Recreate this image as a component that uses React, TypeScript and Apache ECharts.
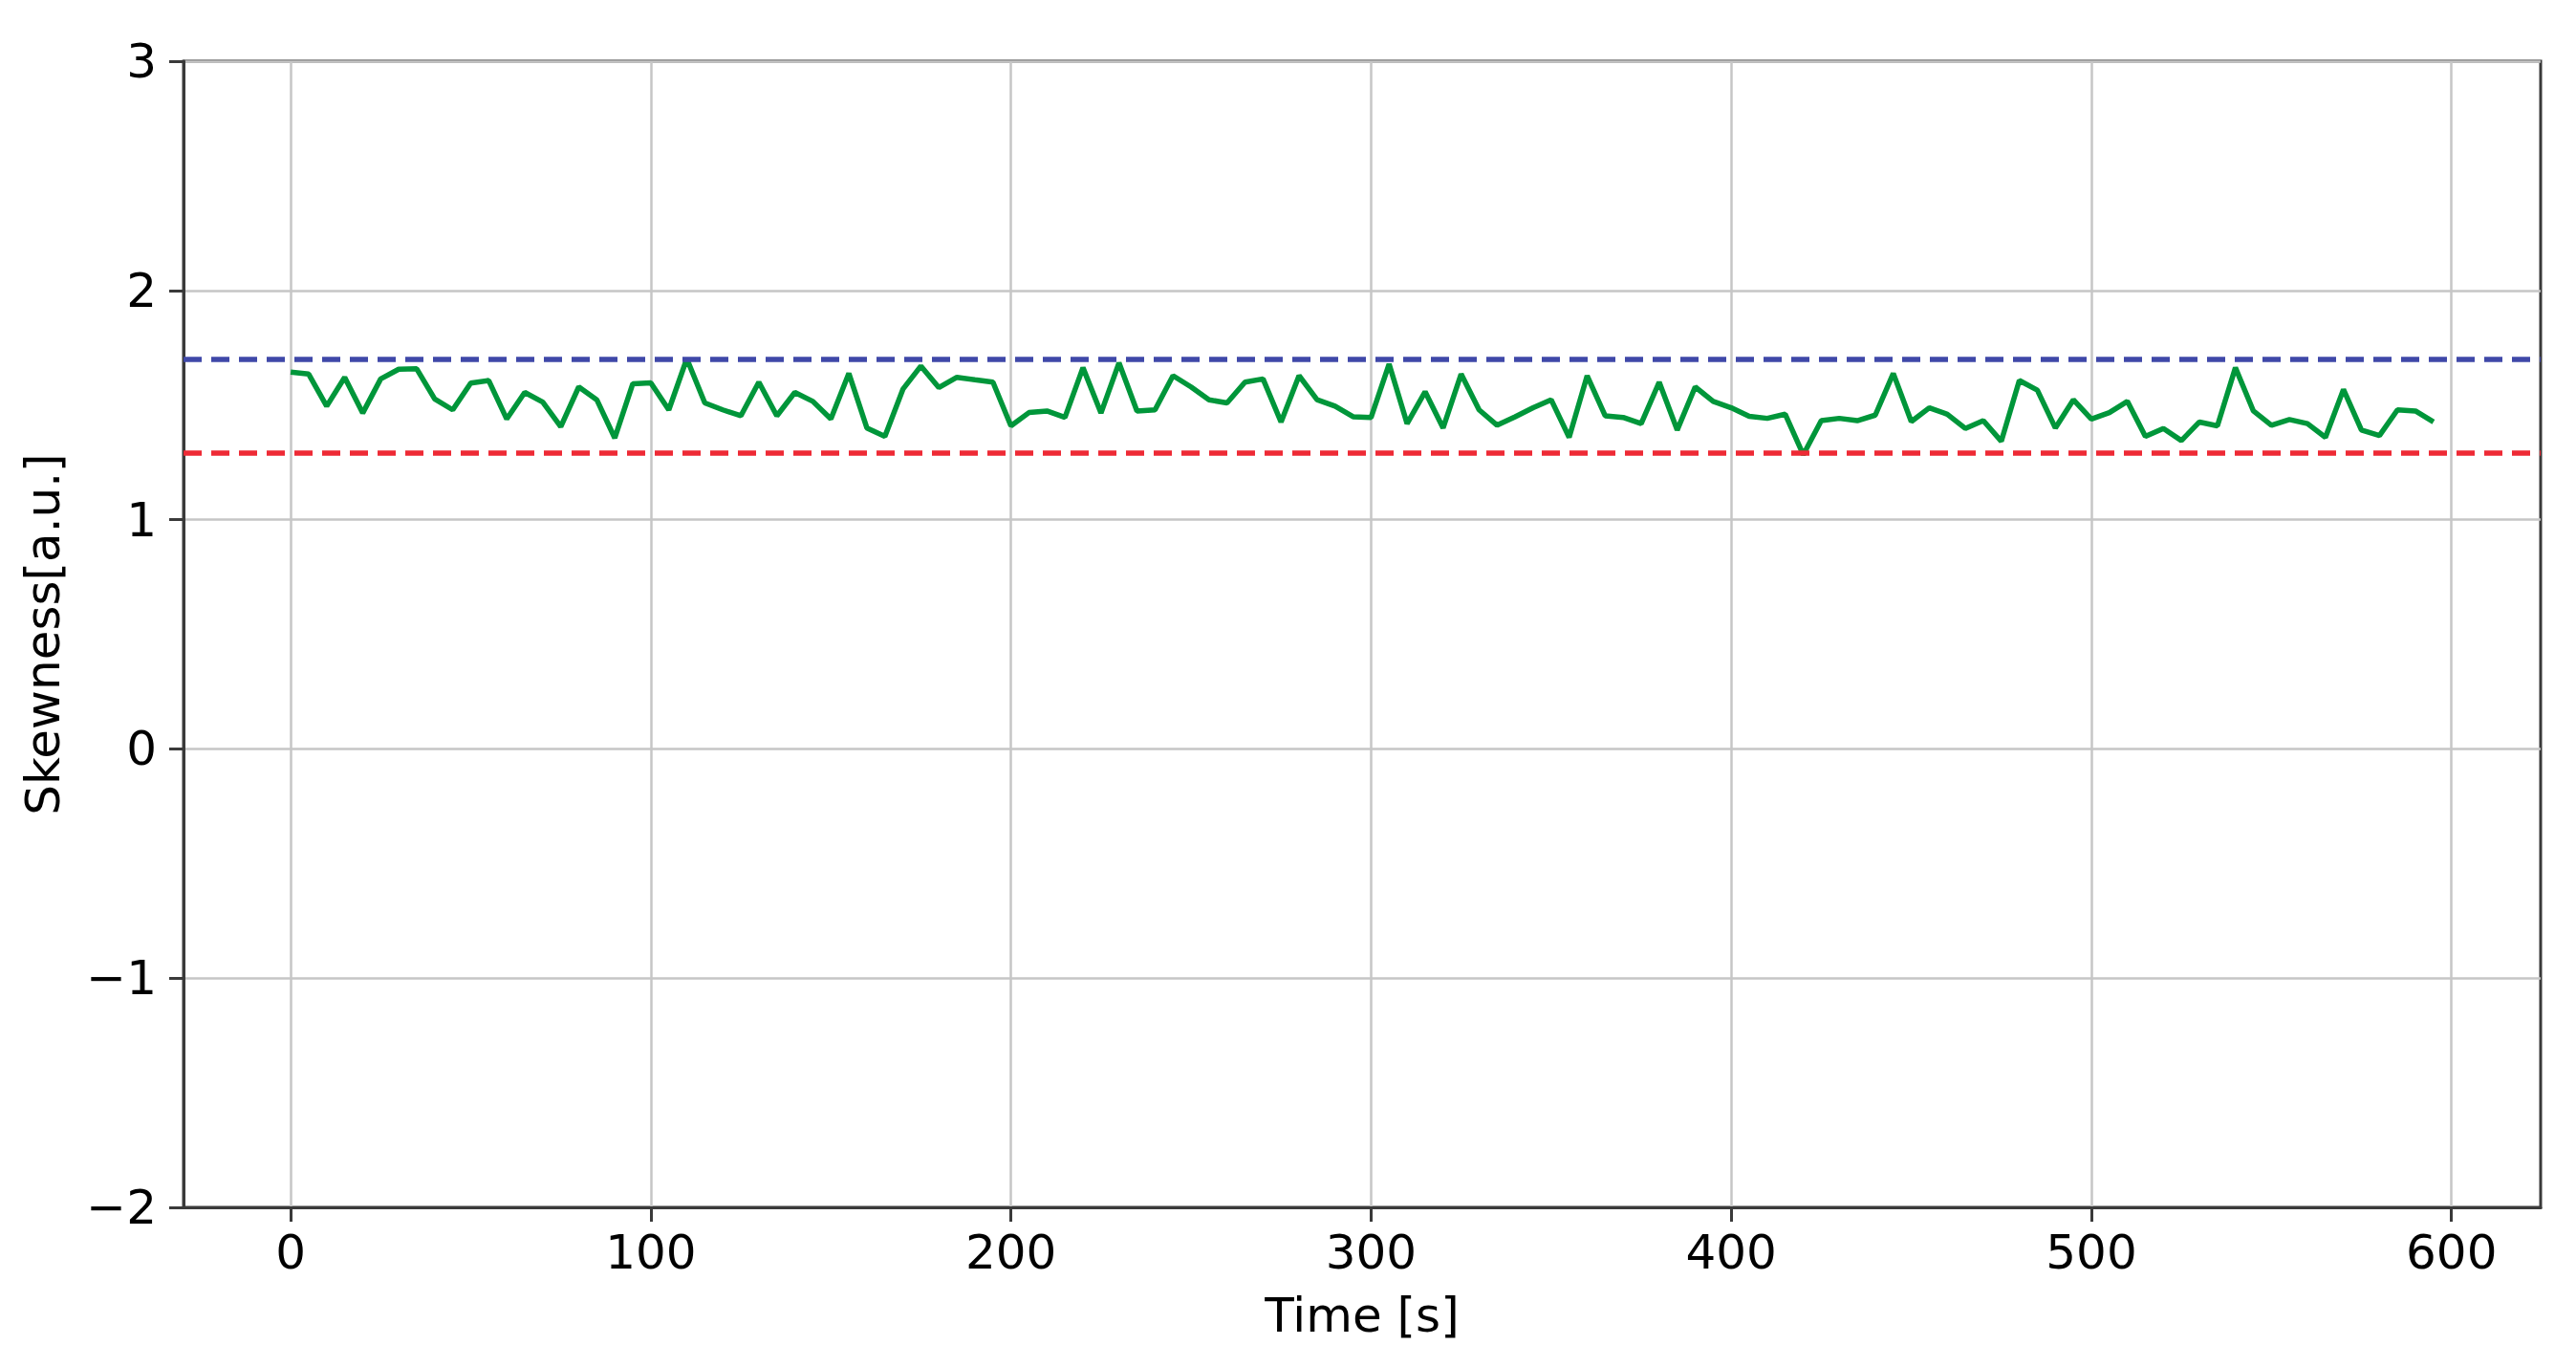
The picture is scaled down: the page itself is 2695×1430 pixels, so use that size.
import React, { useEffect, useRef } from "react";
import * as echarts from "echarts";

const TIME_S = [
  0, 5, 10, 15, 20, 25, 30, 35, 40, 45, 50, 55, 60, 65, 70, 75, 80, 85, 90, 95,
  100, 105, 110, 115, 120, 125, 130, 135, 140, 145, 150, 155, 160, 165, 170, 175, 180, 185, 190, 195,
  200, 205, 210, 215, 220, 225, 230, 235, 240, 245, 250, 255, 260, 265, 270, 275, 280, 285, 290, 295,
  300, 305, 310, 315, 320, 325, 330, 335, 340, 345, 350, 355, 360, 365, 370, 375, 380, 385, 390, 395,
  400, 405, 410, 415, 420, 425, 430, 435, 440, 445, 450, 455, 460, 465, 470, 475, 480, 485, 490, 495,
  500, 505, 510, 515, 520, 525, 530, 535, 540, 545, 550, 555, 560, 565, 570, 575, 580, 585, 590, 595,
];

const SKEWNESS = [
  1.644, 1.635, 1.495, 1.621, 1.465, 1.614, 1.656, 1.658, 1.526, 1.479,
  1.596, 1.607, 1.439, 1.555, 1.513, 1.405, 1.579, 1.523, 1.356, 1.593,
  1.597, 1.479, 1.702, 1.509, 1.479, 1.453, 1.6, 1.453, 1.555, 1.516,
  1.439, 1.638, 1.4, 1.363, 1.569, 1.67, 1.576, 1.621, 1.61, 1.6,
  1.409, 1.467, 1.474, 1.446, 1.663, 1.465, 1.684, 1.474, 1.479, 1.628,
  1.579, 1.523, 1.509, 1.6, 1.614, 1.426, 1.628, 1.523, 1.495, 1.449,
  1.446, 1.679, 1.419, 1.558, 1.4, 1.635, 1.479, 1.412, 1.449, 1.488,
  1.523, 1.359, 1.628, 1.453, 1.446, 1.419, 1.6, 1.391, 1.579, 1.516,
  1.488, 1.451, 1.442, 1.46, 1.283, 1.432, 1.442, 1.432, 1.456, 1.638,
  1.428, 1.488, 1.46, 1.398, 1.432, 1.342, 1.607, 1.565, 1.4, 1.523,
  1.439, 1.467, 1.516, 1.363, 1.398, 1.345, 1.426, 1.409, 1.663, 1.474,
  1.412, 1.437, 1.419, 1.359, 1.568, 1.391, 1.367, 1.479, 1.474, 1.426,
];

const UPPER_LIMIT = 1.7;
const LOWER_LIMIT = 1.288;

const X_TICKS = [0, 100, 200, 300, 400, 500, 600];
const X_MIN = -29.75;
const X_MAX = 624.75;
const Y_MIN = -2;
const Y_MAX = 3;
const Y_STEP = 1;

const FONT = "DejaVu Sans";

export default function App() {
  const ref = useRef<HTMLDivElement>(null);

  useEffect(() => {
    if (!ref.current) return;
    const chart = echarts.init(ref.current, null, { renderer: "svg" });
    const axisLineStyle = { color: "#3a3a3a", width: 3 };
    const data = TIME_S.map((t, i) => [t, SKEWNESS[i]]);
    chart.setOption({
      animation: false,
      backgroundColor: "#ffffff",
      grid: {
        left: 192,
        right: 37,
        top: 64,
        bottom: 167,
        show: true,
        borderColor: "#3a3a3a",
        borderWidth: 3,
        backgroundColor: "transparent",
      },
      xAxis: {
        type: "value",
        min: X_MIN,
        max: X_MAX,
        name: "Time [s]",
        nameLocation: "middle",
        nameGap: 88,
        nameTextStyle: { fontFamily: FONT, fontSize: 50, color: "#000" },
        axisLine: { show: true, onZero: false, lineStyle: axisLineStyle },
        axisTick: {
          show: true,
          length: 15,
          inside: false,
          lineStyle: axisLineStyle,
          customValues: X_TICKS,
        },
        axisLabel: {
          fontFamily: FONT,
          fontSize: 50,
          color: "#000",
          margin: 22,
          customValues: X_TICKS,
        },
        splitLine: {
          show: true,
          lineStyle: { color: "#c6c6c6", width: 2.5 },
        },
      },
      yAxis: {
        type: "value",
        min: Y_MIN,
        max: Y_MAX,
        interval: Y_STEP,
        name: "Skewness[a.u.]",
        nameLocation: "middle",
        nameGap: 122,
        nameTextStyle: { fontFamily: FONT, fontSize: 50, color: "#000" },
        axisLine: { show: true, onZero: false, lineStyle: axisLineStyle },
        axisTick: { show: true, length: 15, inside: false, lineStyle: axisLineStyle },
        axisLabel: {
          fontFamily: FONT,
          fontSize: 50,
          color: "#000",
          margin: 28,
          formatter: (v: number) => String(v).replace("-", "\u2212"),
        },
        splitLine: {
          show: true,
          lineStyle: { color: "#c6c6c6", width: 2.5 },
        },
      },
      series: [
        {
          type: "line",
          data,
          showSymbol: false,
          symbol: "none",
          lineStyle: { color: "#00963a", width: 5.5 },
          z: 3,
          markLine: {
            silent: true,
            symbol: "none",
            label: { show: false },
            data: [
              {
                yAxis: UPPER_LIMIT,
                lineStyle: { color: "#3f48a8", width: 5.5, type: [19, 10] },
              },
              {
                yAxis: LOWER_LIMIT,
                lineStyle: { color: "#ee2a35", width: 5.5, type: [19, 10] },
              },
            ],
          },
        },
      ],
    });
    return () => chart.dispose();
  }, []);

  return (
    <div
      ref={ref}
      style={{ position: "absolute", left: 0, top: 0, width: 2695, height: 1430, background: "#fff" }}
    />
  );
}
